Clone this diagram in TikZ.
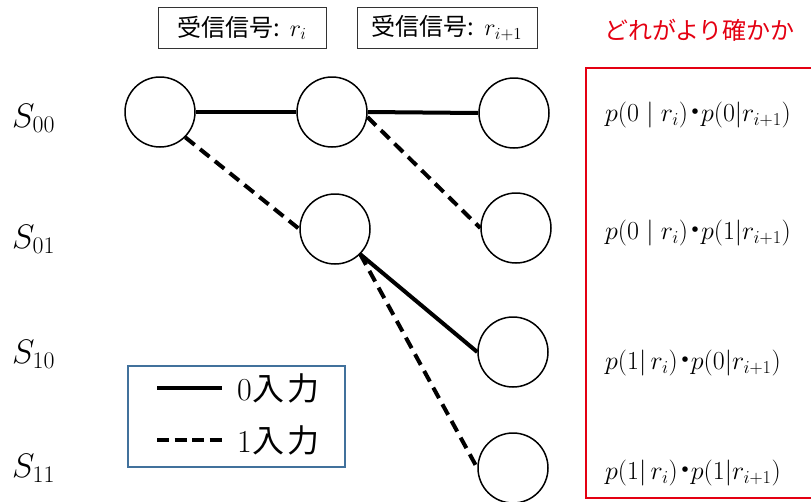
\RequirePackage{fix-cm}
\documentclass[tikz,border=0pt]{standalone}
\usepackage{fontspec}
\newfontfamily\jp{Noto Sans CJK JP}
\definecolor{myred}{RGB}{228,0,18}
\definecolor{myblue}{RGB}{65,113,156}
\begin{document}
\begin{tikzpicture}[x=1pt,y=-1pt,
 st/.style={circle,draw,line width=1.5pt,minimum size=70pt,inner sep=0pt},
 zero/.style={line width=4pt},
 one/.style={line width=4pt,dash pattern=on 12pt off 7pt},
 legone/.style={line width=4pt,dash pattern=on 12pt off 5.5pt},
 hdr/.style={draw=black!80,line width=0.8pt,minimum width=168pt,minimum height=41pt,inner sep=0pt,font=\fontsize{24}{27}\selectfont},
 slab/.style={anchor=base west,font=\fontsize{34}{38}\selectfont,inner sep=0pt},
 prob/.style={anchor=west,font=\fontsize{26}{30}\selectfont,inner sep=0pt},
 legtxt/.style={anchor=west,font=\fontsize{32}{36}\selectfont,inner sep=0pt}]
\useasboundingbox (0,0) rectangle (811,501);
% states
\node[st] (a) at (160,112) {};
\node[st] (b) at (332,112) {};
\node[st] (c) at (514,113) {};
\node[st] (d) at (335,229) {};
\node[st] (e) at (516,228) {};
\node[st] (f) at (513,352) {};
\node[st] (g) at (513,468) {};
% transitions
\draw[zero] (a.east) -- (b.west);
\draw[zero] (b.east) -- (c.west);
\draw[one] (a.-45) -- (d.west);
\draw[one] (b.-8) -- (e.west);
\draw[zero] (d.-45) -- (f.west);
\draw[one] (d.-45) -- (g.west);
% state labels
\node[slab] (s00) at (12,127) {$S_{00}$};
\node[slab] (s01) at (12,248) {$S_{01}$};
\node[slab] (s10) at (12,363) {$S_{10}$};
\node[slab] (s11) at (12,477) {$S_{11}$};
% headers
\node[hdr] (h1) at (242,28) {{\jp 受信信号:} $r_i$};
\node[hdr,minimum width=180pt] (h2) at (447,28) {{\jp 受信信号:} $r_{i+1}$};
% title and frame
\node[anchor=west,text=myred,font=\jp\fontsize{24}{27}\selectfont,inner sep=0pt] (t) at (604,30) {どれがより確かか};
\draw[myred,line width=2pt] (815,68) -- (586,68) -- (586,498) -- (815,498);
\node[prob] (p1) at (605,115) {$p(0\mid r_i)$\hspace{-0.2em}{\jp ・}\hspace{-0.3em}$p(0|r_{i+1})$};
\node[prob] (p2) at (605,233) {$p(0\mid r_i)$\hspace{-0.2em}{\jp ・}\hspace{-0.3em}$p(1|r_{i+1})$};
\node[prob] (p3) at (605,363) {$p(1|\,r_i)$\hspace{-0.2em}{\jp ・}\hspace{-0.3em}$p(0|r_{i+1})$};
\node[prob] (p4) at (605,473) {$p(1|\,r_i)$\hspace{-0.2em}{\jp ・}\hspace{-0.3em}$p(1|r_{i+1})$};
% legend
\node[draw=myblue,line width=2pt,minimum width=217pt,minimum height=101pt,inner sep=0pt] (leg) at (236.5,416.5) {};
\coordinate (l1a) at (157,388);
\coordinate (l1b) at (222,388);
\coordinate (l2a) at (157,440);
\coordinate (l2b) at (222,440);
\draw[zero] (l1a) -- (l1b);
\draw[legone] (l2a) -- (l2b);
\node[legtxt] (lt0) at (237,388) {0\hspace{1pt}{\jp 入\hspace{3pt}力}};
\node[legtxt] (lt1) at (237,440) {1\hspace{1pt}{\jp 入\hspace{3pt}力}};
\end{tikzpicture}
\end{document}
